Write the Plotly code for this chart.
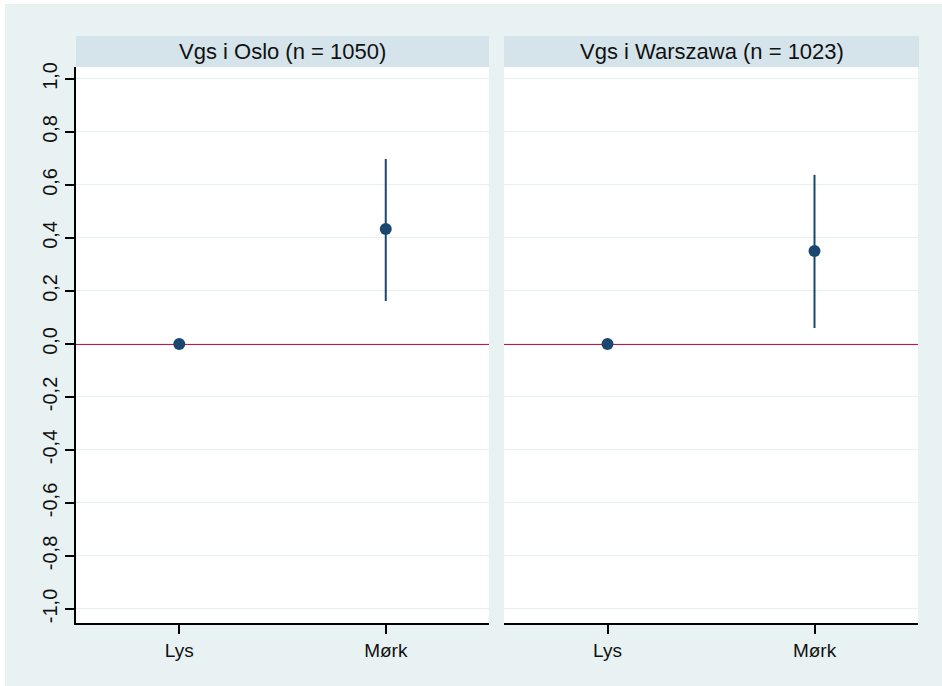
import plotly.graph_objects as go

# Estimates with 95% confidence intervals, by school and skin tone
categories = ["Lys", "Mørk"]
panel_titles = ["Vgs i Oslo (n = 1050)", "Vgs i Warszawa (n = 1023)"]

oslo_est = [0.0, 0.434]
oslo_lo = [0.0, 0.162]
oslo_hi = [0.0, 0.698]

warszawa_est = [0.0, 0.351]
warszawa_lo = [0.0, 0.060]
warszawa_hi = [0.0, 0.638]

y_ticks = [-1.0, -0.8, -0.6, -0.4, -0.2, 0.0, 0.2, 0.4, 0.6, 0.8, 1.0]
y_ticktext = [f"{v:.1f}".replace(".", ",") for v in y_ticks]

W, H = 942, 686
ML, MR, MT, MB = 76, 24, 67, 63
PW, PH = W - ML - MR, H - MT - MB

def px_x(px):
    return (px - ML) / PW

def px_y(py):
    return (H - MB - py) / PH

NAVY = "#1a476f"
RED = "#d0103f"
OUTER = "#e8f2f3"
STRIP = "#d5e4ea"
GRID = "#e6f0f1"
FONT = "Liberation Sans, Arial, sans-serif"

x_pos = [1, 2]
fig = go.Figure()

for i, (est, lo, hi) in enumerate([(oslo_est, oslo_lo, oslo_hi),
                                   (warszawa_est, warszawa_lo, warszawa_hi)]):
    xa = "x" if i == 0 else "x2"
    ya = "y" if i == 0 else "y2"
    fig.add_trace(go.Scatter(
        x=x_pos, y=est, xaxis=xa, yaxis=ya, mode="markers",
        marker=dict(color=NAVY, size=12),
        error_y=dict(type="data", symmetric=False,
                     array=[h - e for h, e in zip(hi, est)],
                     arrayminus=[e - l for e, l in zip(est, lo)],
                     color=NAVY, thickness=2, width=0),
        showlegend=False, hoverinfo="skip",
    ))

axis_common = dict(
    range=[0.5, 2.5], tickmode="array", tickvals=x_pos, ticktext=categories,
    showgrid=False, zeroline=False, showline=True, linecolor="black",
    linewidth=2, ticks="outside", ticklen=9, tickwidth=2, tickcolor="black",
    tickfont=dict(family=FONT, size=19, color="#111"), mirror=False,
    fixedrange=True,
)
y_common = dict(
    range=[-1.053, 1.045], tickmode="array", tickvals=y_ticks,
    gridcolor=GRID, gridwidth=1, zeroline=False, fixedrange=True,
)

fig.update_layout(
    width=W, height=H,
    margin=dict(l=ML, r=MR, t=MT, b=MB, pad=0),
    paper_bgcolor=OUTER, plot_bgcolor="white",
    xaxis=dict(domain=[0, px_x(489)], anchor="y", **axis_common),
    xaxis2=dict(domain=[px_x(504), 1], anchor="y2", **axis_common),
    yaxis=dict(anchor="x", ticktext=y_ticktext, showline=True,
               linecolor="black", linewidth=2, ticks="outside", ticklen=9,
               tickwidth=2, tickcolor="black", tickangle=-90,
               tickfont=dict(family=FONT, size=20, color="#111"), **y_common),
    yaxis2=dict(anchor="x2", showticklabels=False, showline=False,
                ticks="", **y_common),
    showlegend=False,
)

shapes = []
# white edge along top and left of the graph region
shapes.append(dict(type="rect", xref="paper", yref="paper", layer="below",
                   x0=px_x(0), x1=px_x(5), y0=px_y(H), y1=px_y(0),
                   fillcolor="white", line=dict(width=0)))
shapes.append(dict(type="rect", xref="paper", yref="paper", layer="below",
                   x0=px_x(0), x1=px_x(W), y0=px_y(4), y1=px_y(0),
                   fillcolor="white", line=dict(width=0)))

annotations = []
for i, title in enumerate(panel_titles):
    xa = "x" if i == 0 else "x2"
    ya = "y" if i == 0 else "y2"
    x0, x1 = (px_x(76), px_x(489)) if i == 0 else (px_x(504), px_x(919))
    # panel strip
    shapes.append(dict(type="rect", xref="paper", yref="paper",
                       x0=x0, x1=x1, y0=1, y1=px_y(36),
                       fillcolor=STRIP, line=dict(width=0)))
    # reference line at zero
    shapes.append(dict(type="line", xref=f"{xa} domain", yref=ya,
                       x0=0, x1=1, y0=0, y1=0, layer="below",
                       line=dict(color=RED, width=2)))
    annotations.append(dict(xref="paper", yref="paper",
                            x=(x0 + x1) / 2, y=(1 + px_y(36)) / 2,
                            text=title, showarrow=False,
                            xanchor="center", yanchor="middle",
                            font=dict(family=FONT, size=22, color="#111")))

fig.update_layout(shapes=shapes, annotations=annotations)
fig.write_html("out.html")
